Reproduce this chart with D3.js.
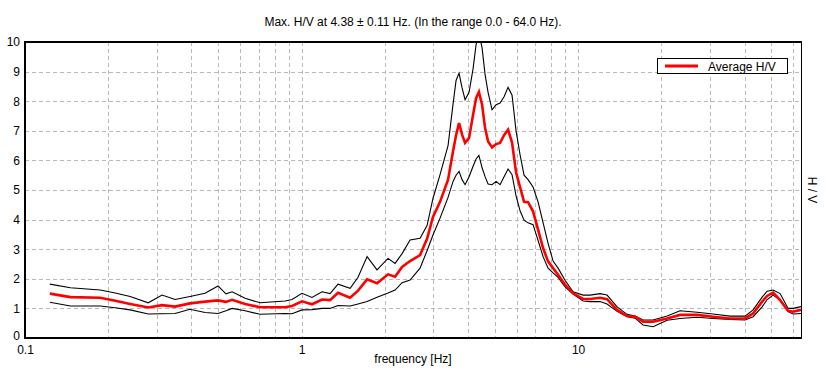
<!DOCTYPE html>
<html><head><meta charset="utf-8">
<script src="https://cdn.jsdelivr.net/npm/d3@7"></script>
<style>body{margin:0;background:#fff}svg{display:block}text{font-family:"Liberation Sans",Arial,sans-serif;font-size:12px;fill:#000}</style>
</head><body><svg id="c" width="826" height="381"></svg>
<script>
const freq = [0.123,0.146,0.187,0.212,0.240,0.279,0.313,0.349,0.395,0.448,0.499,0.533,0.561,0.625,0.708,0.872,0.924,1.004,1.091,1.186,1.268,1.355,1.498,1.601,1.726,1.875,2.055,2.179,2.310,2.469,2.683,2.844,2.990,3.169,3.387,3.531,3.621,3.712,3.807,3.903,4.035,4.172,4.277,4.38,4.497,4.611,4.727,4.887,5.052,5.223,5.400,5.583,5.771,5.967,6.169,6.378,6.594,6.875,7.167,7.472,7.790,8.121,8.467,8.974,9.592,10.43,11.05,12.01,12.73,13.84,15.04,16.08,17.18,18.67,20.99,23.38,26.94,30.77,35.45,40.18,42.95,46.31,48.27,50.74,53.79,57.49,59.94,64.0];
const avgHV = [1.50,1.38,1.36,1.26,1.15,1.03,1.11,1.06,1.17,1.23,1.27,1.22,1.29,1.15,1.04,1.04,1.08,1.24,1.14,1.30,1.28,1.53,1.36,1.60,1.98,1.85,2.15,2.07,2.40,2.60,2.80,3.35,4.10,4.60,5.35,6.31,6.85,7.26,6.87,6.59,6.76,7.54,8.10,8.31,7.88,7.09,6.64,6.44,6.55,6.59,6.85,7.04,6.60,5.60,5.10,4.60,4.59,4.28,3.66,3.04,2.59,2.36,2.14,1.80,1.51,1.32,1.32,1.36,1.31,0.95,0.74,0.72,0.55,0.55,0.66,0.78,0.78,0.72,0.66,0.66,0.83,1.23,1.42,1.53,1.28,0.92,0.89,0.95];
const upperHV = [1.82,1.70,1.62,1.52,1.40,1.19,1.45,1.30,1.40,1.51,1.76,1.49,1.56,1.34,1.19,1.25,1.30,1.51,1.37,1.56,1.50,1.82,1.68,2.05,2.75,2.30,2.69,2.52,2.85,3.31,3.37,3.80,4.73,5.52,6.50,7.90,8.70,8.95,8.45,8.05,8.30,9.10,9.90,10.30,9.80,8.90,8.30,7.71,7.88,7.94,8.15,8.47,8.20,7.00,6.19,5.50,5.35,5.10,4.60,3.90,3.20,2.60,2.36,1.95,1.56,1.45,1.45,1.50,1.45,1.05,0.80,0.74,0.61,0.61,0.74,0.92,0.87,0.81,0.74,0.74,0.95,1.38,1.58,1.62,1.50,1.00,1.00,1.06];
const lowerHV = [1.21,1.08,1.08,1.02,0.95,0.81,0.82,0.83,0.97,0.86,0.83,0.92,1.00,0.92,0.80,0.83,0.82,0.95,0.96,1.00,1.00,1.10,1.08,1.15,1.23,1.38,1.52,1.62,1.87,1.96,2.36,2.95,3.49,4.05,4.75,5.29,5.50,5.63,5.35,5.18,5.45,5.80,6.05,6.17,5.75,5.45,5.20,5.18,5.29,5.18,5.45,5.71,5.52,4.80,4.30,3.98,3.89,3.83,3.30,2.75,2.36,2.20,2.05,1.73,1.48,1.25,1.23,1.23,1.15,0.90,0.72,0.67,0.44,0.38,0.60,0.66,0.70,0.66,0.63,0.61,0.72,1.05,1.30,1.45,1.28,0.89,0.81,0.83];
const xTickLabels = [0.1, 1, 10];
const yTicks = [0,1,2,3,4,5,6,7,8,9,10];
const xGrid = [0.2,0.3,0.4,0.5,0.6,0.7,0.8,0.9,1,2,3,4,5,6,7,8,9,10,20,30,40,50,60];
const titleText = "Max. H/V at 4.38 \u00b1 0.11 Hz. (In the range 0.0 - 64.0 Hz).";

const svg = d3.select("#c");
const L=25, R=801, T=42, B=338;
const x = d3.scaleLog().domain([0.1,64]).range([L,R]);
const y = d3.scaleLinear().domain([0,10]).range([B,T]);

// grid
const g = svg.append("g").attr("stroke","#b9b9b9").attr("stroke-dasharray","4,3").attr("stroke-width",1);
xGrid.forEach(v=>g.append("line").attr("x1",Math.round(x(v))+0.5).attr("x2",Math.round(x(v))+0.5).attr("y1",T).attr("y2",B));
yTicks.slice(1,10).forEach(v=>g.append("line").attr("x1",L).attr("x2",R).attr("y1",Math.round(y(v))+0.5).attr("y2",Math.round(y(v))+0.5));

svg.append("defs").append("clipPath").attr("id","clip").append("rect").attr("x",L).attr("y",T).attr("width",R-L).attr("height",B-T);
const line = (arr)=>d3.line().x((d,i)=>x(freq[i])).y(d=>y(d))(arr);
const curves = svg.append("g").attr("clip-path","url(#clip)").attr("fill","none");
curves.append("path").attr("d",line(upperHV)).attr("stroke","#000").attr("stroke-width",1.1);
curves.append("path").attr("d",line(lowerHV)).attr("stroke","#000").attr("stroke-width",1.1);
curves.append("path").attr("d",line(avgHV)).attr("stroke","#ff0000").attr("stroke-width",2.6);

// frame
svg.append("line").attr("x1",L).attr("x2",R).attr("y1",T).attr("y2",T).attr("stroke","#000").attr("stroke-width",2);
svg.append("line").attr("x1",L).attr("x2",R).attr("y1",B).attr("y2",B).attr("stroke","#000").attr("stroke-width",2);
svg.append("line").attr("x1",L).attr("x2",L).attr("y1",T-1).attr("y2",B+1).attr("stroke","#000").attr("stroke-width",2);
svg.append("line").attr("x1",R+0.5).attr("x2",R+0.5).attr("y1",T-1).attr("y2",B+1).attr("stroke","#000").attr("stroke-width",1);

// axes labels via d3 axes
const yAxis = d3.axisLeft(y).tickValues(yTicks).tickSize(0).tickPadding(4).tickFormat(d3.format("d"));
const ya = svg.append("g").attr("transform",`translate(${L-1},0)`).call(yAxis);
ya.select(".domain").remove();
ya.selectAll("text").style("font-size","12px").style("font-family","Liberation Sans, Arial, sans-serif").attr("fill","#000");
ya.selectAll(".tick").filter(d=>d===0).select("text").attr("y",-2);
const xAxis = d3.axisBottom(x).tickValues(xTickLabels).tickSize(0).tickPadding(6).tickFormat(d=>String(d));
const xa = svg.append("g").attr("transform",`translate(0,${B+1})`).call(xAxis);
xa.select(".domain").remove();
xa.selectAll("text").style("font-size","12px").style("font-family","Liberation Sans, Arial, sans-serif").attr("fill","#000");

svg.append("text").attr("x",(L+R)/2).attr("y",26).attr("text-anchor","middle").text(titleText);
svg.append("text").attr("x",(L+R)/2).attr("y",363).attr("text-anchor","middle").text("frequency [Hz]");
svg.append("text").attr("transform",`translate(808,${(T+B)/2}) rotate(90)`).attr("text-anchor","middle").text("H / V");

// legend
const lg = svg.append("g");
lg.append("rect").attr("x",657.5).attr("y",58.5).attr("width",130).attr("height",15).attr("fill","#fff").attr("stroke","#000");
lg.append("line").attr("x1",665).attr("x2",698).attr("y1",66).attr("y2",66).attr("stroke","#ff0000").attr("stroke-width",3);
lg.append("text").attr("x",708).attr("y",70.5).text("Average H/V");
</script></body></html>
